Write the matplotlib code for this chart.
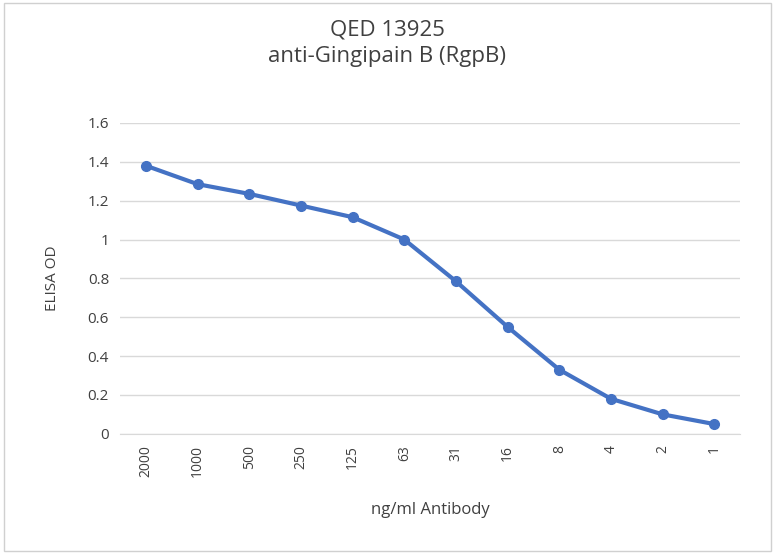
import matplotlib.pyplot as plt

concentrations = ["2000", "1000", "500", "250", "125", "63", "31", "16", "8", "4", "2", "1"]
elisa_od = [1.38, 1.285, 1.235, 1.175, 1.115, 1.0, 0.785, 0.55, 0.33, 0.18, 0.10, 0.05]
y_ticks = [0, 0.2, 0.4, 0.6, 0.8, 1.0, 1.2, 1.4, 1.6]
y_labels = ["0", "0.2", "0.4", "0.6", "0.8", "1", "1.2", "1.4", "1.6"]

plt.rcParams["font.family"] = "Open Sans"
fig = plt.figure(figsize=(7.75, 5.54), dpi=100)
ax = fig.add_axes([0.155, 0.217, 0.80, 0.561])

x = range(len(concentrations))
ax.plot(x, elisa_od, color="#4472C4", linewidth=3, marker="o", markersize=7)

ax.set_xlim(-0.5, len(concentrations) - 0.5)
ax.set_ylim(0, 1.6)
ax.set_xticks(list(x))
ax.set_xticklabels(concentrations, rotation=90, fontsize=10, color="#404040")
ax.set_yticks(y_ticks)
ax.set_yticklabels(y_labels, fontsize=11, color="#404040")
ax.grid(axis="y", color="#d9d9d9", linewidth=1)
ax.set_axisbelow(True)
for s in ["top", "right", "left"]:
    ax.spines[s].set_visible(False)
ax.spines["bottom"].set_color("#d9d9d9")
ax.tick_params(length=0, pad=8)

fig.text(0.5, 0.922, "QED 13925\nanti-Gingipain B (RgpB)", ha="center", va="center",
         fontsize=16, color="#404040", linespacing=1.4)
ax.set_xlabel("ng/ml Antibody", fontsize=12, color="#404040", labelpad=18)
ax.set_ylabel("ELISA OD", fontsize=11, color="#404040", labelpad=20)

border = plt.Rectangle((0.005, 0.005), 0.99, 0.99, transform=fig.transFigure,
                       fill=False, edgecolor="#d0d0d0", linewidth=1)
fig.patches.append(border)

fig.savefig("out.png", dpi=100)
